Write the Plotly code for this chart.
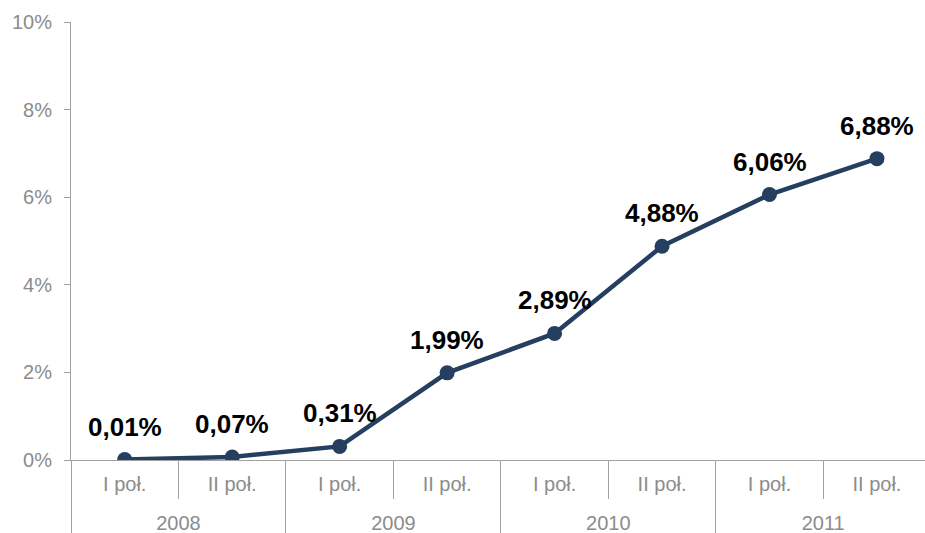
import plotly.graph_objects as go

years = ["2008", "2008", "2009", "2009", "2010", "2010", "2011", "2011"]
halves = ["I poł.", "II poł.", "I poł.", "II poł.", "I poł.", "II poł.", "I poł.", "II poł."]
values = [0.01, 0.07, 0.31, 1.99, 2.89, 4.88, 6.06, 6.88]
labels = ["0,01%", "0,07%", "0,31%", "1,99%", "2,89%", "4,88%", "6,06%", "6,88%"]

navy = "#243f60"
grey_txt = "#8c8c8c"
grey_line = "#a0a0a0"

# labels drawn at 20px, axis font at 18px so the year row's blank line is a bit shorter
big = "<span style='font-size:20px'>{}</span>"
half_text = [big.format(h) for h in halves]
year_text = ["<br>" + big.format(y) for y in years]

fig = go.Figure()
fig.add_trace(go.Scatter(
    x=[year_text, half_text],
    y=values,
    mode="lines+markers",
    line=dict(color=navy, width=4.5),
    marker=dict(color=navy, size=15),
    showlegend=False,
    hoverinfo="skip",
))

for i in range(len(values)):
    fig.add_annotation(
        x=i, y=values[i], text="<b>" + labels[i] + "</b>",
        showarrow=False, yshift=33,
        font=dict(family="Liberation Sans, Arial", size=26, color="black"),
    )

fig.update_layout(
    width=925, height=533,
    margin=dict(l=71, r=0, t=22, b=73),
    plot_bgcolor="white", paper_bgcolor="white",
    font=dict(family="Liberation Sans, Arial", size=20, color=grey_txt),
    xaxis=dict(
        type="multicategory",
        range=[-0.5, 7.447],
        automargin=False,
        showline=True, linecolor=grey_line, linewidth=1,
        ticks="outside", tickson="boundaries", ticklen=38, tickcolor=grey_line,
        showdividers=True, dividercolor=grey_line, dividerwidth=1,
        showgrid=False, zeroline=False,
        ticklabelstandoff=8,
        tickfont=dict(size=18, color=grey_txt),
    ),
    yaxis=dict(
        range=[0, 10], dtick=2, ticksuffix="%",
        automargin=False,
        showline=True, linecolor=grey_line, linewidth=1,
        ticks="outside", ticklen=6, tickcolor=grey_line,
        showgrid=False, zeroline=False,
        ticklabelstandoff=8,
        tickfont=dict(size=20, color=grey_txt),
    ),
)

fig.write_html(
    "out.html",
    config={"displayModeBar": False},
    post_script="document.body.style.margin='0';document.body.style.overflow='hidden';",
)
